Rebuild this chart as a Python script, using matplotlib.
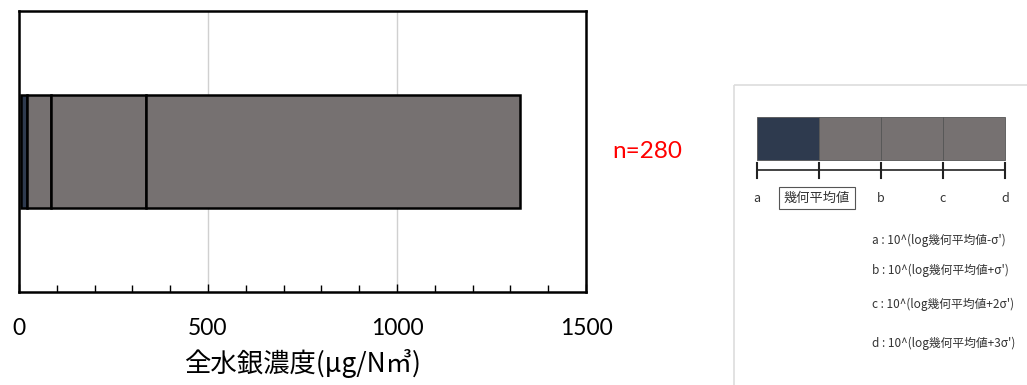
import matplotlib.pyplot as plt
from matplotlib.patches import Rectangle
from matplotlib.ticker import MultipleLocator

plt.rcParams['font.family'] = ['Noto Sans CJK JP', 'DejaVu Sans']

# range boundaries a, geometric mean, b, c, d (ug/Nm3)
bounds = [5.3, 21, 84, 336, 1325]
seg_colors = ['#2e3a4e', '#767171', '#767171', '#767171']
n_label = 'n=280'
xticks = [0, 500, 1000, 1500]

# explanation panel
key_letters = ['a', '', 'b', 'c', 'd']
key_notes = ["a : 10^(log幾何平均値-σ')",
             "b : 10^(log幾何平均値+σ')",
             "c : 10^(log幾何平均値+2σ')",
             "d : 10^(log幾何平均値+3σ')"]

fig = plt.figure(figsize=(10.27, 3.85), dpi=100)

ax = fig.add_axes([19/1027, 93/385, 567/1027, 281/385])
for i in range(len(bounds) - 1):
    ax.barh(0, bounds[i+1] - bounds[i], left=bounds[i], height=0.4,
            color=seg_colors[i], edgecolor='black', linewidth=1.8, zorder=3)
ax.set_xlim(0, 1500)
ax.set_ylim(-0.5, 0.5)
ax.set_yticks([])
ax.set_xticks(xticks)
ax.xaxis.set_minor_locator(MultipleLocator(100))
ax.grid(axis='x', color='#d0d0d0', linewidth=1, zorder=0)
ax.tick_params(axis='x', which='both', direction='in', length=6, width=1,
               pad=19, labelsize=16.5)
ax.tick_params(axis='x', which='minor', length=5)
for lab in ax.get_xticklabels():
    lab.set_family(['Lato', 'DejaVu Sans'])
for s in ax.spines.values():
    s.set_linewidth(1.8)
ax.set_xlabel('全水銀濃度(μg/N㎥)', fontsize=19, labelpad=7)
ax.text(1.046, 0.5, n_label, transform=ax.transAxes, color='red',
        fontsize=17.5, va='center', ha='left', family=['Lato', 'DejaVu Sans'])

# explanation inset
kx = fig.add_axes([733/1027, 0, 300/1027, 301/385])
kx.set_xlim(733, 1033)
kx.set_ylim(385, 84)
kx.axis('off')
kx.add_patch(Rectangle((733.5, 84.5), 300, 310, fill=False,
                       edgecolor='#dddddd', linewidth=1.2))
edges = [757 + 62 * i for i in range(5)]
for i in range(4):
    kx.barh(138.5, 62, left=edges[i], height=43, color=seg_colors[i],
            edgecolor='#555555', linewidth=0.6)
kx.plot([edges[0], edges[-1]], [170, 170], color='#222222', lw=1.2)
for e, t in zip(edges, key_letters):
    kx.plot([e, e], [163, 178], color='#222222', lw=1.5)
    if t:
        kx.text(e, 198, t, ha='center', va='center', fontsize=9,
                color='#333333')
kx.text(817, 198, '幾何平均値', ha='center', va='center', fontsize=9.5,
        color='#333333',
        bbox=dict(boxstyle='square,pad=0.35', fc='white', ec='#555555', lw=0.8))
for y, t in zip([240, 270, 304, 343], key_notes):
    kx.text(872, y, t, ha='left', va='center', fontsize=8.5, color='#333333')

fig.savefig('out.png', dpi=100)
